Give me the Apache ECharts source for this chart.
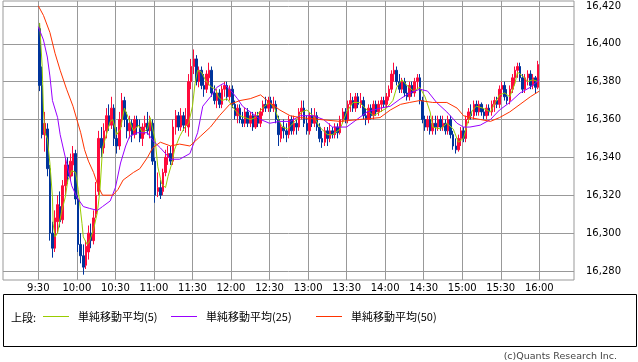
<!DOCTYPE html>
<html><head><meta charset="utf-8">
<script src="https://cdn.jsdelivr.net/npm/echarts@6/dist/echarts.min.js"></script>
<style>html,body{margin:0;padding:0;background:#fff}#c{width:638px;height:362px}</style>
</head><body><div id="c"></div>
<script>
// minutes since 9:30 for x-axis ticks
const xTickValues = [0,30,60,90,120,150,180,210,240,270,300,330,360,390];
const xTickLabels = ['9:30','10:00','10:30','11:00','11:30','12:00','12:30','13:00','13:30','14:00','14:30','15:00','15:30','16:00'];
const yTickValues = [16280,16300,16320,16340,16360,16380,16400,16420];
const seriesNames = ['単純移動平均(5)','単純移動平均(25)','単純移動平均(50)'];
// 2-minute candles from 9:30: [open, close, low, high]
const ohlc = [
[16408,16378,16375,16411],[16378,16352,16350,16388],[16352,16358,16343,16364],[16355,16334,16330,16358],
[16334,16300,16296,16336],[16300,16292,16287,16306],[16292,16308,16290,16312],[16306,16315,16300,16320],
[16314,16306,16303,16322],[16307,16325,16305,16328],[16325,16336,16320,16340],[16336,16330,16326,16340],
[16330,16338,16328,16342],[16336,16342,16330,16346],[16342,16318,16315,16344],[16318,16294,16290,16320],
[16294,16288,16284,16300],[16288,16282,16278,16294],[16283,16293,16281,16296],[16290,16300,16286,16304],
[16300,16296,16292,16305],[16296,16308,16294,16312],[16310,16320,16308,16327],[16322,16350,16320,16354],
[16350,16345,16340,16356],[16345,16354,16342,16358],[16354,16362,16350,16366],[16362,16357,16354,16368],
[16357,16366,16355,16372],[16366,16350,16346,16368],[16350,16346,16342,16356],[16346,16360,16344,16364],
[16360,16370,16356,16374],[16370,16360,16356,16372],[16360,16354,16350,16364],[16354,16358,16350,16362],
[16358,16352,16348,16360],[16352,16360,16350,16362],[16360,16356,16352,16362],[16356,16350,16348,16360],
[16350,16356,16346,16358],[16356,16358,16352,16362],[16358,16354,16352,16364],[16354,16360,16350,16362],
[16358,16338,16336,16360],[16338,16320,16316,16340],[16322,16324,16319,16332],[16324,16320,16318,16328],
[16322,16332,16320,16334],[16332,16340,16330,16344],[16340,16342,16336,16346],[16342,16338,16336,16346],
[16338,16356,16336,16360],[16356,16362,16352,16365],[16362,16356,16354,16364],[16356,16362,16354,16366],
[16362,16357,16354,16364],[16357,16360,16353,16366],[16356,16380,16351,16384],[16380,16388,16376,16392],
[16388,16392,16384,16397],[16392,16380,16378,16394],[16380,16386,16377,16388],[16386,16378,16376,16388],
[16378,16376,16372,16384],[16376,16384,16374,16386],[16382,16386,16378,16390],[16386,16374,16372,16388],
[16374,16370,16368,16378],[16370,16374,16366,16376],[16374,16368,16366,16376],[16368,16376,16366,16378],
[16376,16378,16372,16380],[16378,16372,16370,16380],[16372,16376,16370,16378],[16376,16368,16366,16378],
[16368,16362,16360,16370],[16362,16366,16358,16368],[16366,16360,16358,16368],[16360,16358,16356,16364],
[16358,16364,16356,16366],[16364,16358,16356,16366],[16358,16362,16356,16364],[16362,16356,16354,16364],
[16356,16362,16355,16364],[16362,16358,16356,16364],[16358,16364,16356,16366],[16364,16368,16362,16370],
[16368,16366,16364,16372],[16366,16370,16364,16372],[16370,16366,16364,16372],[16366,16368,16364,16372],
[16368,16360,16358,16370],[16360,16352,16346,16362],[16350,16356,16348,16358],[16356,16354,16350,16360],
[16354,16352,16348,16358],[16352,16360,16350,16362],[16360,16354,16352,16362],[16354,16358,16352,16362],
[16358,16356,16352,16360],[16356,16364,16354,16366],[16364,16366,16360,16370],[16366,16358,16356,16370],
[16358,16354,16352,16362],[16354,16362,16352,16364],[16362,16358,16356,16366],[16358,16362,16356,16366],
[16362,16356,16354,16364],[16356,16350,16348,16358],[16350,16348,16345,16354],[16348,16354,16346,16356],
[16354,16350,16346,16356],[16350,16354,16348,16358],[16354,16352,16350,16356],[16352,16356,16350,16358],
[16356,16353,16350,16358],[16353,16360,16352,16362],[16360,16364,16358,16366],[16364,16360,16358,16366],
[16360,16368,16358,16370],[16368,16370,16364,16374],[16370,16366,16364,16372],[16366,16372,16364,16374],
[16372,16368,16366,16374],[16368,16370,16366,16374],[16370,16362,16360,16372],[16362,16360,16357,16366],
[16360,16366,16358,16368],[16366,16362,16360,16368],[16362,16368,16360,16370],[16368,16364,16362,16370],
[16364,16368,16362,16370],[16368,16370,16364,16372],[16370,16368,16366,16372],[16368,16372,16366,16374],
[16372,16376,16370,16378],[16376,16384,16374,16386],[16384,16386,16380,16390],[16386,16380,16378,16388],
[16380,16376,16374,16384],[16376,16380,16374,16382],[16380,16374,16372,16382],[16374,16372,16370,16378],
[16372,16378,16370,16380],[16378,16374,16372,16380],[16374,16380,16372,16382],[16380,16382,16376,16384],
[16382,16370,16368,16384],[16370,16360,16358,16372],[16360,16356,16354,16362],[16356,16360,16354,16362],
[16360,16354,16352,16362],[16354,16358,16352,16362],[16358,16356,16352,16362],[16356,16360,16354,16362],
[16360,16356,16354,16362],[16356,16358,16354,16362],[16358,16354,16352,16360],[16354,16360,16352,16362],
[16360,16352,16350,16362],[16352,16346,16344,16354],[16346,16344,16342,16350],[16344,16350,16343,16352],
[16350,16354,16346,16356],[16354,16350,16348,16356],[16350,16360,16348,16362],[16360,16364,16358,16366],
[16364,16362,16360,16368],[16362,16368,16360,16370],[16368,16364,16362,16370],[16364,16368,16362,16370],
[16368,16364,16362,16369],[16364,16362,16360,16366],[16362,16366,16360,16368],[16366,16364,16362,16368],
[16364,16368,16362,16370],[16368,16370,16364,16372],[16370,16368,16366,16372],[16368,16376,16366,16378],
[16376,16378,16372,16380],[16378,16372,16370,16380],[16372,16370,16368,16376],[16370,16376,16368,16378],
[16376,16382,16374,16384],[16382,16386,16378,16388],[16386,16388,16382,16390],[16388,16382,16380,16390],
[16382,16376,16374,16384],[16376,16382,16374,16384],[16382,16384,16378,16386],[16384,16378,16376,16386],
[16378,16382,16376,16384],[16382,16377,16374,16383],[16377,16389,16376,16391]
];
// moving averages: [minutes since 9:30, value]
const ma5 = [[1,16411],[3,16388],[4,16365],[5,16353],[7,16350],[9,16337],[11,16319],[11.5,16305],[13,16298],[15,16300],[18,16311],[21,16319],[23,16328],[26,16333],[29,16332],[31,16323],[32.5,16314],[34,16305],[35,16298],[38,16294],[40,16296],[43,16302],[46,16311],[48,16323],[50,16345],[53,16352],[56,16359],[58,16360],[61,16352],[64,16355],[67,16366],[70,16361],[74,16354],[78,16357],[81,16353],[85,16355],[87,16361],[91,16349],[93,16335],[96,16326],[99,16324],[101,16330],[104,16337],[106,16344],[110,16351],[114,16356],[117,16358],[120,16367],[122,16379],[124,16386],[127,16385],[130,16381],[132,16379],[135,16377],[138,16376],[140,16372],[143,16370],[147,16371],[149,16369],[153,16365],[157,16362],[161,16361],[165,16360],[169,16361],[172,16364],[176,16367],[180,16369],[184,16366],[187,16360],[190,16356],[194,16355],[197,16357],[201,16360],[205,16364],[209,16365],[214,16362],[219,16356],[225,16352],[229,16352],[235,16355],[240,16364],[245,16369],[250,16369],[256,16365],[261,16362],[266,16364],[271,16366],[276,16370],[279,16377],[283,16381],[287,16378],[292,16375],[297,16377],[301,16372],[305,16364],[307,16356],[313,16355],[318,16358],[323,16355],[327,16348],[331,16350],[334,16358],[338,16365],[341,16367],[346,16366],[352,16364],[355,16368],[359,16373],[363,16374],[367,16372],[371,16379],[373,16385],[377,16383],[381,16380],[385,16381],[389,16380]];
const ma25 = [[0,16409],[4,16402],[7,16393],[9,16383],[11,16370],[15,16361],[17,16352],[19,16346],[22,16337],[26,16325],[30,16319],[35,16314],[40,16313],[46,16312],[50,16314],[56,16317],[60,16324],[64,16337],[68,16346],[71,16351],[77,16353],[85,16353],[89,16349],[95,16345],[103,16339],[110,16339],[118,16342],[124,16353],[128,16367],[134,16372],[139,16377],[144,16379],[149,16376],[155,16371],[159,16367],[165,16364],[173,16360],[180,16358],[188,16359],[196,16359],[204,16362],[214,16362],[222,16360],[229,16356],[240,16356],[248,16360],[256,16364],[266,16366],[274,16367],[282,16371],[289,16374],[297,16376],[303,16375],[310,16369],[318,16364],[326,16358],[331,16356],[336,16356],[344,16357],[352,16360],[359,16365],[367,16369],[375,16374],[383,16377],[390,16381]];
const ma50 = [[0,16420],[4,16415],[9,16406],[13,16395],[17,16386],[22,16376],[27,16367],[33,16353],[36,16344],[39,16338],[43,16332],[47,16324],[50,16320],[58,16320],[62,16323],[66,16328],[74,16332],[79,16334],[85,16340],[89,16345],[95,16348],[103,16346],[110,16347],[118,16346],[126,16351],[134,16356],[141,16362],[149,16368],[157,16370],[165,16371],[173,16373],[180,16369],[188,16365],[196,16362],[204,16361],[219,16360],[235,16359],[250,16360],[266,16361],[274,16365],[282,16368],[289,16369],[297,16370],[307,16369],[318,16369],[326,16366],[331,16362],[336,16361],[344,16360],[352,16359],[359,16361],[367,16364],[375,16368],[383,16372],[390,16375]];

const candleData = ohlc.map((r, i) => [2 * i + 1, r[0], r[1], r[2], r[3]]);
const chart = echarts.init(document.getElementById('c'), null, {renderer: 'canvas'});
const tickFont = {fontFamily: 'DejaVu Sans', fontSize: 10, color: '#000'};
const legendBase = {
  top: 311, itemWidth: 26, itemHeight: 1, icon: 'rect', padding: 0,
  textStyle: {fontFamily: 'Noto Sans CJK JP', fontSize: 11, color: '#000', padding: [0, 0, 0, 4]},
  selectedMode: false
};
chart.setOption({
  animation: false,
  backgroundColor: '#fff',
  grid: {left: 3, top: 1, width: 571, height: 279, show: true, borderColor: '#999', borderWidth: 1, backgroundColor: '#fff'},
  xAxis: {
    type: 'value', min: -27.5, max: 417,
    axisLine: {show: false},
    axisTick: {show: false, customValues: xTickValues},
    splitLine: {show: true, lineStyle: {color: '#999', width: 1}},
    axisLabel: {customValues: xTickValues, margin: 3, ...tickFont,
      formatter: v => xTickLabels[xTickValues.indexOf(v)]}
  },
  yAxis: {
    type: 'value', position: 'right', min: 16275.2, max: 16422.6, scale: true,
    axisLine: {show: false},
    axisTick: {show: true, inside: false, length: 6, customValues: yTickValues, lineStyle: {color: '#999'}},
    splitLine: {show: true, lineStyle: {color: '#999', width: 1}},
    axisLabel: {customValues: yTickValues, margin: 12, ...tickFont}
  },
  legend: [
    Object.assign({}, legendBase, {left: 43, data: [seriesNames[0]]}),
    Object.assign({}, legendBase, {left: 171, data: [seriesNames[1]]}),
    Object.assign({}, legendBase, {left: 316, data: [seriesNames[2]]})
  ],
  graphic: [
    {type: 'rect', shape: {x: 3.5, y: 294.5, width: 633, height: 52}, style: {fill: 'none', stroke: '#000', lineWidth: 1}, silent: true},
    {type: 'text', x: 11, y: 318, style: {text: '上段:', fontFamily: 'Noto Sans CJK JP', fontSize: 11, fill: '#000', verticalAlign: 'middle'}},
    {type: 'text', x: 617, y: 357, style: {text: '(c)Quants Research Inc.', fontFamily: 'DejaVu Sans', fontSize: 9.5, fill: '#444', align: 'right', verticalAlign: 'middle'}}
  ],
  series: [
    {type: 'candlestick', data: candleData, encode: {x: 0, y: [1, 2, 3, 4]}, barWidth: 2,
      itemStyle: {color: '#ff0a3c', color0: '#00349c', borderColor: '#ff0a3c', borderColor0: '#00349c', borderWidth: 1}},
    {type: 'line', name: seriesNames[0], data: ma5, showSymbol: false, color: '#99cc00', lineStyle: {width: 1, color: '#99cc00'}, z: 3},
    {type: 'line', name: seriesNames[1], data: ma25, showSymbol: false, color: '#9900ff', lineStyle: {width: 1, color: '#9900ff'}, z: 3},
    {type: 'line', name: seriesNames[2], data: ma50, showSymbol: false, color: '#ff3300', lineStyle: {width: 1, color: '#ff3300'}, z: 3}
  ]
});
</script></body></html>
